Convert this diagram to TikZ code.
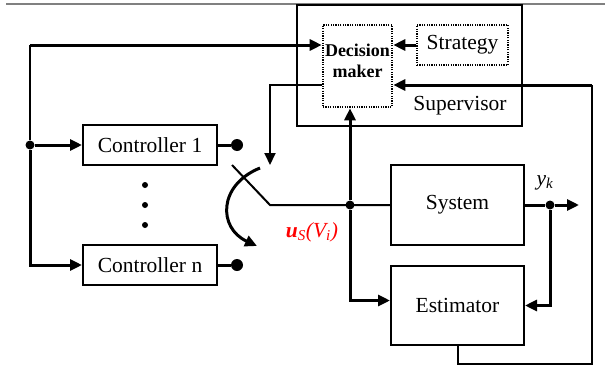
\documentclass[tikz,border=0pt]{standalone}
\usepackage{fontspec}
\setmainfont{Liberation Serif}
\usetikzlibrary{arrows.meta}

\begin{document}
\begin{tikzpicture}[x=1pt,y=-1pt,
  blk/.style={draw,line width=2pt,font=\fontsize{21.5}{24}\selectfont},
  dotbox/.style={draw,line width=2.6pt,dash pattern=on 1.2pt off 1.2pt},
  arr/.style={line width=3pt,-{Triangle[length=12pt,width=11pt]}},
  tharr/.style={line width=2pt,-{Triangle[length=12pt,width=11pt]}},
  wire/.style={line width=2pt},
  thwire/.style={line width=3pt},
  jdot/.style={circle,fill,inner sep=0pt,minimum size=9pt},
  bigdot/.style={circle,fill,inner sep=0pt,minimum size=12pt}]
\useasboundingbox (0,0) rectangle (605,367);
\draw[gray,line width=1.2pt] (6,4)--(605,4);
\node[blk,minimum width=225pt,minimum height=121pt] (sup) at (409.5,65.5) {};
\node[font=\fontsize{21.5}{24}\selectfont] (suplbl) at (460,106) {Supervisor};
\node[dotbox,minimum width=69pt,minimum height=82pt] (dm) at (357.5,66) {};
\node[font=\fontsize{18}{21}\selectfont\bfseries,align=center] (dmlbl) at (357.5,61) {Decision\\maker};
\node[dotbox,minimum width=91pt,minimum height=40pt,font=\fontsize{21.5}{24}\selectfont] (strat) at (462.5,45) {Strategy};
\node[blk,minimum width=134pt,minimum height=40pt] (c1) at (150,145) {Controller 1};
\node[blk,minimum width=134pt,minimum height=40pt] (cn) at (150,265) {Controller n};
\node[blk,minimum width=133pt,minimum height=80pt] (sys) at (457.5,205) {System};
\node[blk,minimum width=133pt,minimum height=79pt] (est) at (457.5,305.5) {Estimator};

\coordinate (top) at (30,45);
\node[jdot] (j1) at (30,145) {};
\coordinate (swa) at (232,165);
\coordinate (swb) at (270,205);
\coordinate (swin) at (270,165);
\node[jdot] (j2) at (350,205) {};
\node[jdot] (j3) at (550,205) {};
\coordinate (yout) at (579,205);
\coordinate (fb) at (592,85);
\node[bigdot] (o1) at (237,145) {};
\node[bigdot] (on) at (237,265) {};

\draw[wire] (j1) -- (top);
\draw[arr] (top) -- (top -| dm.west);
\draw[arr] (j1) -- (c1.west);
\draw[arr] (j1) |- (cn.west);
\draw[arr] (strat.west) -- (strat.west -| dm.east);
\draw[thwire] (c1.east) -- (o1);
\draw[thwire] (cn.east) -- (on);
\draw[tharr] ([yshift=-19pt]dm.west) -| (swin);
\draw[wire] (swa) -- (swb) -- (sys.west);
\draw[arr] (j2) -- (j2 |- dm.south);
\draw[arr] (j2) |- ([yshift=5pt]est.west);
\draw[arr] (sys.east) -- (j3) -- (yout);
\draw[arr] (j3) |- (est.east);
\draw[wire] (est.south) -- ++(0,18) -| (fb);
\draw[arr] (fb) -- (fb -| dm.east);
\draw[arr] (260,168) .. controls (218,185) and (218,228) .. (257,246);

\foreach \yy in {185,205,225} \fill (145,\yy) circle (3pt);
\node[font=\fontsize{21.5}{24}\selectfont] (yk) at (545,183) {\textit{y}\textsubscript{\textit{k}}};
\node[red,font=\fontsize{21.5}{24}\selectfont] (us) at (312,232) {\textit{\textbf{u}}\textsubscript{\textit{S}}\textit{(V\textsubscript{i})}};
\end{tikzpicture}
\end{document}
